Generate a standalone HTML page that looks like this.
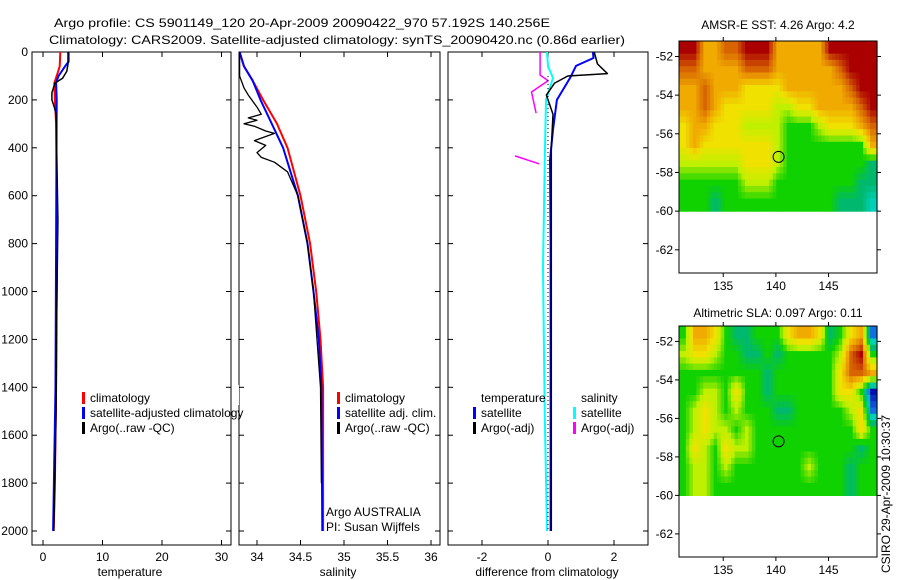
<!DOCTYPE html>
<html><head><meta charset="utf-8"><style>
html,body{margin:0;padding:0;background:#fff;width:900px;height:580px;overflow:hidden}
svg text{font-family:"Liberation Sans",sans-serif;font-size:12px;fill:#000}
</style></head><body>
<svg id="fig" width="900" height="580" viewBox="0 0 900 580" xmlns="http://www.w3.org/2000/svg">
<text x="54" y="27" font-size="14" textLength="496" lengthAdjust="spacingAndGlyphs">Argo profile: CS 5901149_120 20-Apr-2009 20090422_970 57.192S 140.256E</text>
<text x="49" y="44" font-size="14" textLength="576" lengthAdjust="spacingAndGlyphs">Climatology: CARS2009. Satellite-adjusted climatology: synTS_20090420.nc (0.86d earlier)</text>
<text x="778" y="29" text-anchor="middle" font-size="12">AMSR-E SST: 4.26 Argo: 4.2</text>
<text x="778" y="317" text-anchor="middle" font-size="12">Altimetric SLA: 0.097 Argo: 0.11</text>
<text transform="translate(890,573) rotate(-90)" font-size="12">CSIRO 29-Apr-2009 10:30:37</text>
</svg>
<script>
// ---------- data ----------
const depthTicks=[0,200,400,600,800,1000,1200,1400,1600,1800,2000];
const tempTicks=[0,10,20,30];
const salTicks=[34,34.5,35,35.5,36];
const diffTicks=[-2,0,2];
const latTicks=[-52,-54,-56,-58,-60,-62];
const lonTicks=[135,140,145];

const tClimDepth=[0,60,100,130,200,300,600,1000,1400,1800,2000];
const tClimVal=[2.9,2.8,2.3,1.9,2.0,2.2,2.3,2.3,2.2,2.0,1.8];
const tSatDepth=[0,40,60,100,130,200,800,1400,2000];
const tSatVal=[4.3,4.3,3.7,2.6,2.2,2.3,2.2,2.1,1.7];
const tArgoDepth=[0,50,80,110,130,170,200,230,260,700,1100,1500,1900,2000];
const tArgoVal=[4.2,4.2,4.0,3.3,2.0,1.5,1.5,1.9,2.2,2.5,2.3,2.2,1.9,1.8];

const sClimDepth=[0,60,120,200,300,400,600,800,1000,1200,1400,2000];
const sClimVal=[33.8,33.85,33.95,34.07,34.23,34.35,34.5,34.61,34.68,34.73,34.76,34.76];
const sSatDepth=[0,60,120,200,300,400,600,800,1000,1200,1400,2000];
const sSatVal=[33.8,33.85,33.95,34.04,34.17,34.3,34.47,34.58,34.65,34.71,34.74,34.75];
const sArgoDepth=[0,100,150,180,230,260,275,285,300,310,330,340,370,390,420,440,460,500,600,800,1000,1400,1800];
const sArgoVal=[33.8,33.8,33.85,33.9,34.0,34.05,33.9,34.0,33.85,33.97,34.1,34.2,33.97,34.1,34.0,34.05,34.2,34.35,34.47,34.58,34.65,34.73,34.74];

const dTSatDepth=[0,25,58,108,200,325,450,800,1400,2000];
const dTSatVal=[1.36,1.38,0.85,0.67,0.27,0.15,0.06,0.08,0.08,0.08];
const dTArgoDepth=[0,50,90,100,130,180,260,400,1000,1600,2000];
const dTArgoVal=[1.4,1.5,1.8,0.6,0.2,-0.05,0.15,0.1,0.1,0.1,0.1];
const dSSatDepth=[0,60,108,200,400,900,1500,2000];
const dSSatVal=[-0.03,0.0,0.15,-0.06,-0.09,-0.15,-0.1,-0.03];
const dSArgoDepth=[0,96,120,167,255];
const dSArgoVal=[-0.24,-0.24,0.0,-0.5,-0.36];
const dSArgo2Depth=[434,467];
const dSArgo2Val=[-1.0,-0.27];

// heatmaps: rows north->south (lat -51.2 to -60), columns lon 131..149, digit = colour level 0-9
const sstGrid=[
"9977889997777799999",
"8877778887777778999",
"7787776666777777899",
"7787666665566777789",
"6776665555444566678",
"6766666665444444447",
"5555556665444444443",
"4444445554444444433",
"4443444444444443332"];
const slaGrid=[
"4776433444677634671",
"5665443343444445894",
"4444444434444446887",
"4455464434444446640",
"4565454443344444561",
"4565545444444444464",
"4654655444444444434",
"4554544444445444344",
"4554444444444444344"];
const argoLon=140.256, argoLat=-57.192;

// ---------- drawing ----------
const NS="http://www.w3.org/2000/svg";
const svg=document.getElementById('fig');
function el(tag,attrs,parent){const e=document.createElementNS(NS,tag);for(const k in attrs)e.setAttribute(k,attrs[k]);(parent||svg).appendChild(e);return e;}
const Y0=52,Y1=545;
const yD=d=>Y0+d*0.2395;
function lin(d0,d1,r0,r1){return v=>r0+(v-d0)*(r1-r0)/(d1-d0);}
const panels=[
 {name:'temperature',x0:32,x1:231,sx:lin(0,10,43,102.5),ticks:tempTicks,label:'temperature',lx:130,ylab:true},
 {name:'salinity',x0:239,x1:440,sx:lin(34,35,257,344),ticks:salTicks,label:'salinity',lx:338},
 {name:'difference',x0:448,x1:648,sx:lin(0,2,548,614),ticks:diffTicks,label:'difference from climatology',lx:547}
];
panels.forEach(p=>{
 const g=el('g',{});
 
 
 const r=el('rect',{x:p.x0,y:Y0,width:p.x1-p.x0,height:Y1-Y0,fill:'none',stroke:'#000','stroke-width':1},g);
 
 
 depthTicks.forEach(d=>{
  const y=yD(d);
  el('line',{x1:p.x0,x2:p.x0+5,y1:y,y2:y,stroke:'#000'},g);
  el('line',{x1:p.x1,x2:p.x1-5,y1:y,y2:y,stroke:'#000'},g);
  if(p.ylab){const t=el('text',{x:p.x0-4,y:y+4,'text-anchor':'end'},g);t.textContent=d;
   
   }
 });
 p.ticks.forEach(v=>{
  const x=p.sx(v);
  el('line',{x1:x,x2:x,y1:Y1,y2:Y1-5,stroke:'#000'},g);
  el('line',{x1:x,x2:x,y1:Y0,y2:Y0+5,stroke:'#000'},g);
  const t=el('text',{x:x,y:Y1+16,'text-anchor':'middle'},g);t.textContent=v;
  
  
 });
 const lt=el('text',{x:p.lx,y:576,'text-anchor':'middle'},g);lt.textContent=p.label;
 
 
 p.g=g;
});
function line(p,depths,vals,color,w,name,dash){
 const pts=depths.map((d,i)=>p.sx(vals[i]).toFixed(1)+','+yD(d).toFixed(1)).join(' ');
 const a={points:pts,fill:'none',stroke:color,'stroke-width':w,'stroke-linejoin':'round'};
 if(dash)a['stroke-dasharray']=dash;
 const l=el('polyline',a,p.g);
 
 
}
const [PT,PS,PD]=panels;
line(PT,tClimDepth,tClimVal,'#f00',2,'temp-climatology-line');
line(PT,tSatDepth,tSatVal,'#00f',2,'temp-satellite-line');
line(PT,tArgoDepth,tArgoVal,'#000',1.5,'temp-argo-line');
line(PS,sClimDepth,sClimVal,'#f00',2,'sal-climatology-line');
line(PS,sSatDepth,sSatVal,'#00f',2,'sal-satellite-line');
line(PS,sArgoDepth,sArgoVal,'#000',1.3,'sal-argo-line');
line(PD,dSSatDepth,dSSatVal,'#0ff',2,'diff-sal-satellite-line');
line(PD,dTSatDepth,dTSatVal,'#00f',2,'diff-temp-satellite-line');
line(PD,dTArgoDepth,dTArgoVal,'#000',1.5,'diff-temp-argo-line');
line(PD,dSArgoDepth,dSArgoVal,'#f0f',1.5,'diff-sal-argo-line');
line(PD,dSArgo2Depth,dSArgo2Val,'#f0f',1.5,'diff-sal-argo-segment');
const zl=el('line',{x1:PD.sx(0),x2:PD.sx(0),y1:yD(100),y2:yD(2000),stroke:'#000','stroke-dasharray':'1,3'},PD.g);



function legend(x,y,items,name){
 const g=el('g',{});
 
 
 items.forEach((it,i)=>{
  const yy=y+i*15;
  if(it[1])el('rect',{x:x,y:yy-10,width:3,height:12,fill:it[1]},g);
  const t=el('text',{x:x+8,y:yy},g);t.textContent=it[0];
  
  
 });
}
legend(82,402,[['climatology','#f00'],['satellite-adjusted climatology','#00f'],['Argo(..raw -QC)','#000']],'temp-legend');
legend(337,402,[['climatology','#f00'],['satellite adj. clim.','#00f'],['Argo(..raw -QC)','#000']],'sal-legend');
legend(473,402,[['temperature',null],['satellite','#00f'],['Argo(-adj)','#000']],'diff-temp-legend');
legend(573,402,[['salinity',null],['satellite','#0ff'],['Argo(-adj)','#f0f']],'diff-sal-legend');
const cover=el('rect',{x:232,y:385,width:7,height:20,fill:'#fff'});


const op=el('text',{x:326,y:516});op.textContent='Argo AUSTRALIA';


const pi=el('text',{x:326,y:531});pi.textContent='PI: Susan Wijffels';



// continuous colormap stops (level 0..9)
const cmapStops=[[0,16,180],[16,112,224],[0,208,184],[0,184,110],[16,210,0],[190,240,0],[240,225,0],[240,170,0],[215,100,0],[170,0,0]];
function colorAt(v){
 v=Math.max(0,Math.min(9,v));const i=Math.min(8,Math.floor(v)),f=v-i;
 const a=cmapStops[i],b=cmapStops[i+1];
 return 'rgb('+a.map((c,k)=>Math.round(c+(b[k]-c)*f)).join(',')+')';
}
function sample(grid,r,c){
 const nr=grid.length,nc=grid[0].length;
 r=Math.max(0,Math.min(nr-1,r));c=Math.max(0,Math.min(nc-1,c));
 const r0=Math.floor(r),c0=Math.floor(c),r1=Math.min(nr-1,r0+1),c1=Math.min(nc-1,c0+1),fr=r-r0,fc=c-c0;
 const g=(i,j)=>+grid[i][j];
 return (g(r0,c0)*(1-fc)+g(r0,c1)*fc)*(1-fr)+(g(r1,c0)*(1-fc)+g(r1,c1)*fc)*fr;
}
function map(x0,y0,x1,y1,grid,name){
 const sx=lin(130.8,149.6,x0,x1), sy=lin(-51.2,-63.2,y0,y1);
 const g=el('g',{});
 
 
 const nr=grid.length, nc=grid[0].length;
 const SUB=3;
 const lonStep=(149.6-130.8)/nc/SUB, latStep=(-60+51.2)/nr/SUB;
 for(let i=0;i<nr*SUB;i++)for(let j=0;j<nc*SUB;j++){
  const lonA=130.8+j*lonStep, latA=-51.2+i*latStep;
  const v=sample(grid,(i+0.5)/SUB-0.5,(j+0.5)/SUB-0.5);
  const c=el('rect',{x:sx(lonA).toFixed(1),y:sy(latA).toFixed(1),width:(sx(lonA+lonStep)-sx(lonA)+0.6).toFixed(1),height:(sy(latA+latStep)-sy(latA)+0.6).toFixed(1),fill:colorAt(v)},g);
  
  
 }
 el('rect',{x:x0,y:y0,width:x1-x0,height:y1-y0,fill:'none',stroke:'#000'},g);
 latTicks.forEach(v=>{const y=sy(v);
  el('line',{x1:x0,x2:x0-4,y1:y,y2:y,stroke:'#000'},g);
  el('line',{x1:x1,x2:x1+4,y1:y,y2:y,stroke:'#000'},g);
  const t=el('text',{x:x0-6,y:y+4,'text-anchor':'end'},g);t.textContent=v;
  
  });
 lonTicks.forEach(v=>{const x=sx(v);
  el('line',{x1:x,x2:x,y1:y1,y2:y1+4,stroke:'#000'},g);
  el('line',{x1:x,x2:x,y1:y0,y2:y0-4,stroke:'#000'},g);
  const t=el('text',{x:x,y:y1+17,'text-anchor':'middle'},g);t.textContent=v;
  
  });
 const m=el('circle',{cx:sx(argoLon),cy:sy(argoLat),r:5.5,fill:'none',stroke:'#000'},g);
 
 
}
map(679,41,877,273,sstGrid,'sst-map');
map(679,326,877,557,slaGrid,'sla-map');
</script>
</body></html>
